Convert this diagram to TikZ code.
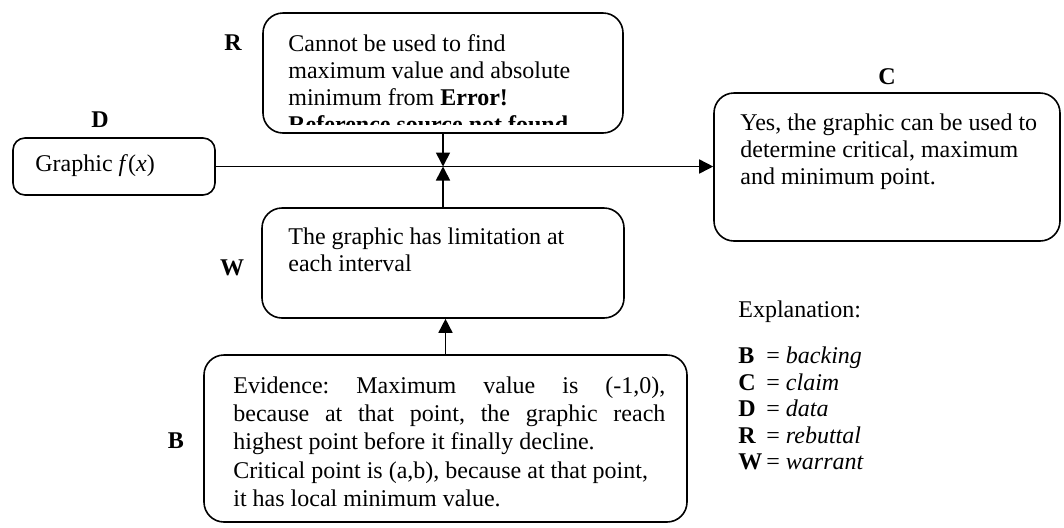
\documentclass[tikz,border=0pt]{standalone}
\usepackage{fontspec}
\setmainfont{Liberation Serif}
\usetikzlibrary{arrows.meta}
\tikzset{
  box/.style={draw, line width=0.8pt, rounded corners=10pt, inner sep=0pt},
  smallbox/.style={draw, line width=0.8pt, rounded corners=6pt, inner sep=0pt},
  lbl/.style={font=\fontsize{12}{14}\selectfont\bfseries, inner sep=0pt},
  txt/.style={font=\fontsize{12}{13.6}\selectfont, inner sep=0pt, align=left, anchor=north west},
  conn/.style={line width=0.8pt},
  arr/.style={line width=0.8pt, -{Triangle[length=7pt,width=7pt]}}
}
\frenchspacing
\begin{document}
\begin{tikzpicture}[x=0.5pt,y=-0.5pt]
\useasboundingbox (0,0) rectangle (1064,527);
% boxes
\node[box, minimum width=180pt, minimum height=60pt] (R) at (443,73) {};
\node[smallbox, minimum width=101pt, minimum height=28.5pt] (D) at (114,166.5) {};
\node[box, minimum width=173pt, minimum height=74pt] (C) at (887,167) {};
\node[box, minimum width=181pt, minimum height=55pt] (W) at (443,263) {};
\node[box, minimum width=241.5pt, minimum height=83.5pt] (B) at (445.5,438.5) {};
% texts
\begin{scope}
\clip (R.north west) rectangle ([yshift=4.5pt]R.south east);
\node[txt] (Rt) at (288,34) {Cannot be used to find\\maximum value and absolute\\minimum from \textbf{Error!}\\\textbf{Reference source not found.}};
\end{scope}
\node[font=\fontsize{12}{14}\selectfont, inner sep=0pt, anchor=west] (Dt) at (35,166) {Graphic \textit{f}(\textit{x})};
\node[txt] (Ct) at (740,113) {Yes, the graphic can be used to\\determine critical, maximum\\and minimum point.};
\node[txt] (Wt) at (288,227) {The graphic has limitation at\\each interval};
\node[txt, font=\fontsize{12}{14.2}\selectfont, text width=216pt, align=justify] (Bt) at (233,376) {Evidence: Maximum value is (-1,0),\linebreak because at that point, the graphic reach\linebreak highest point before it finally decline.\par Critical point is (a,b), because at that point,\newline it has local minimum value.};
% labels
\node[lbl] (Rl) at (233,43) {R};
\node[lbl] (Dl) at (100,120) {D};
\node[lbl] (Cl) at (887,77) {C};
\node[lbl] (Wl) at (232,268) {W};
\node[lbl] (Bl) at (176,441) {B};
% legend
\node[font=\fontsize{12}{13.6}\selectfont, inner sep=0pt, anchor=west] (Ex) at (738,312) {Explanation:};
\node[font=\fontsize{12}{13.6}\selectfont, inner sep=0pt, anchor=north west] (Lg) at (738,345) {%
\renewcommand{\arraystretch}{0.97}%
\begin{tabular}{@{}l@{\,}l@{}}
\textbf{B} & = \textit{backing}\\
\textbf{C} & = \textit{claim}\\
\textbf{D} & = \textit{data}\\
\textbf{R} & = \textit{rebuttal}\\
\textbf{W} & = \textit{warrant}
\end{tabular}};
% connectors
\coordinate (M) at (R.south |- D.east);
\draw[arr] (D.east) -- (D.east -| C.west);
\draw[arr] (R.south) -- (M);
\draw[arr] (W.north) -- (M);
\draw[arr] (B.north) -- (B.north |- W.south);
\end{tikzpicture}
\end{document}
